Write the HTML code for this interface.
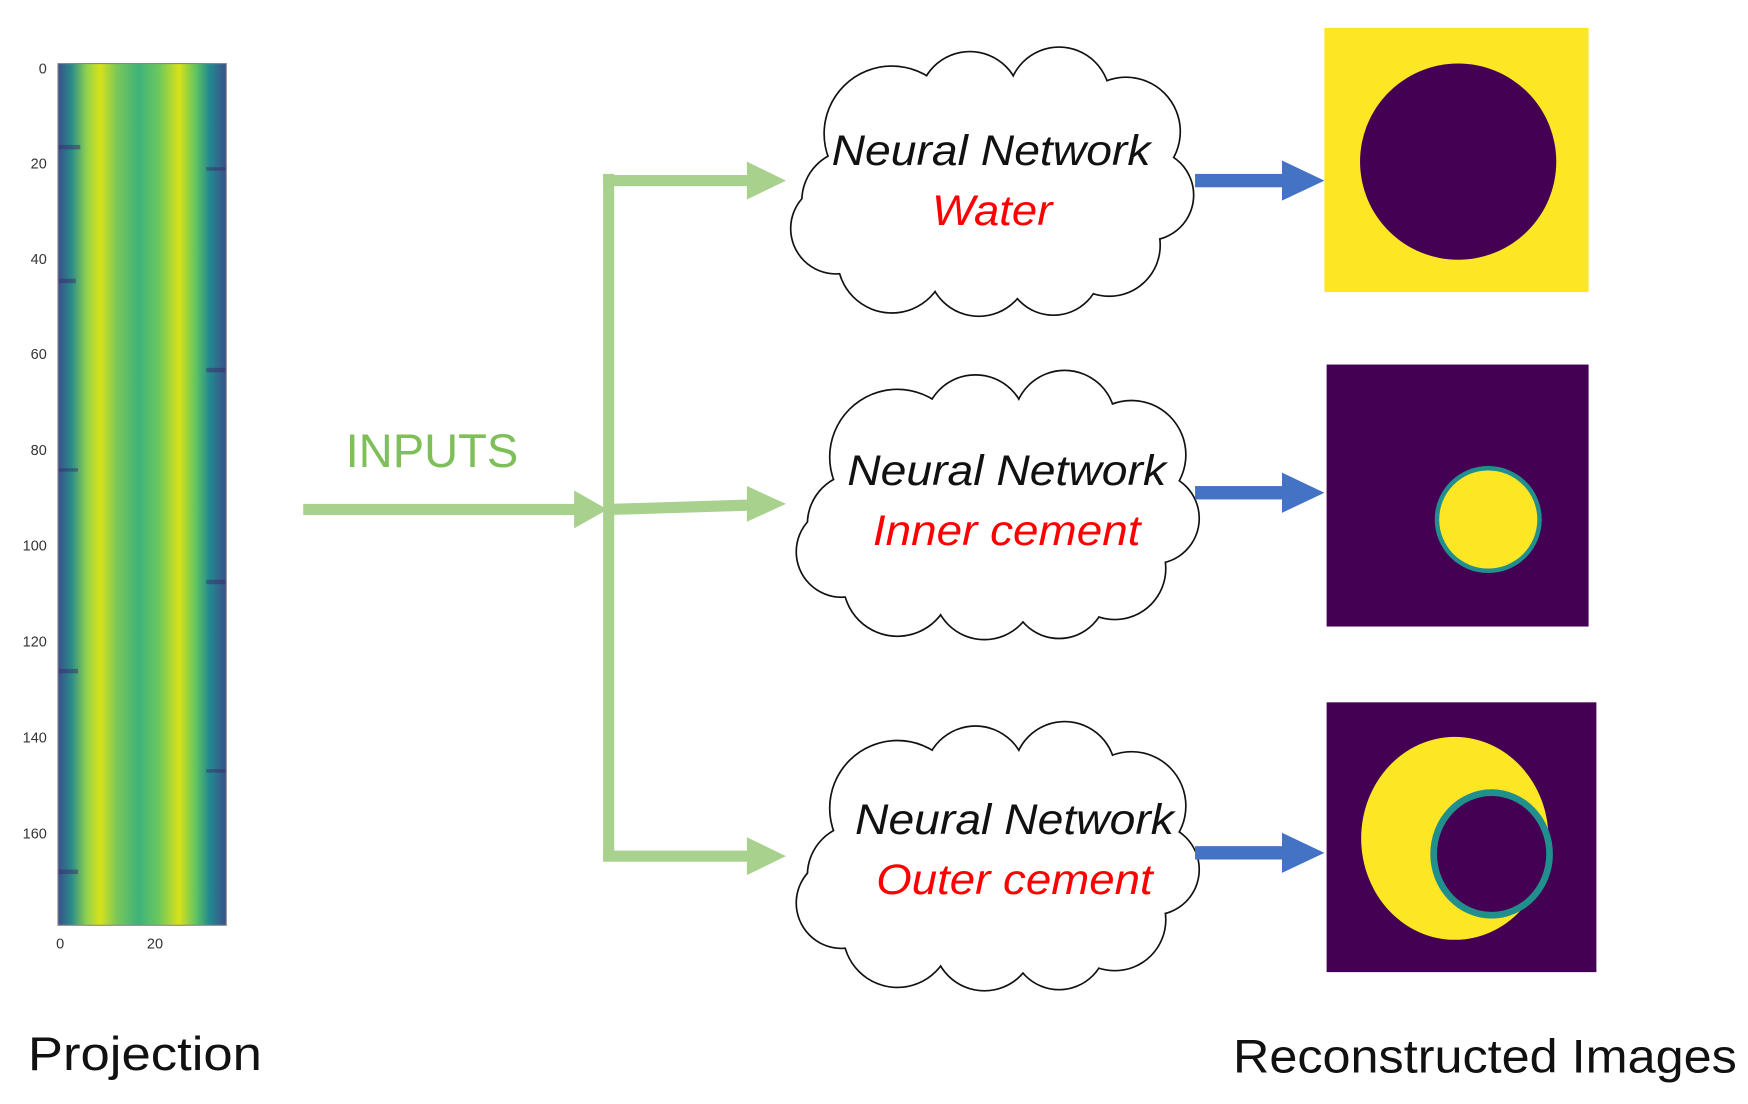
<!DOCTYPE html>
<html><head><meta charset="utf-8"><style>
html,body{margin:0;padding:0;background:#fff;}
svg{display:block}
</style></head><body>
<svg width="1748" height="1104" viewBox="0 0 1568 990.3" preserveAspectRatio="none" xmlns="http://www.w3.org/2000/svg">
<defs>
<linearGradient id="hm" x1="0" x2="1" y1="0" y2="0">
<stop offset="0" stop-color="#3b4f8a"/>
<stop offset="0.08" stop-color="#2a8a8a"/>
<stop offset="0.17" stop-color="#8fd14f"/>
<stop offset="0.25" stop-color="#d8e219"/>
<stop offset="0.35" stop-color="#7ac85a"/>
<stop offset="0.48" stop-color="#3fb27a"/>
<stop offset="0.6" stop-color="#6cc85e"/>
<stop offset="0.72" stop-color="#d8e219"/>
<stop offset="0.82" stop-color="#5ec462"/>
<stop offset="0.9" stop-color="#23898e"/>
<stop offset="1" stop-color="#3b4f8a"/>
</linearGradient>
<g id="cloud">
<g fill="none" stroke="#111" stroke-width="3">
<circle cx="765" cy="180" r="45"/><circle cx="800" cy="120" r="60"/><circle cx="870" cy="92" r="45"/>
<circle cx="950" cy="88" r="45"/><circle cx="1010" cy="118" r="48"/><circle cx="1030" cy="175" r="40"/>
<circle cx="995" cy="220" r="45"/><circle cx="945" cy="240" r="42"/><circle cx="878" cy="238" r="45"/>
<circle cx="800" cy="232" r="48"/><circle cx="750" cy="205" r="40"/>
</g>
<g fill="#fff">
<circle cx="765" cy="180" r="45"/><circle cx="800" cy="120" r="60"/><circle cx="870" cy="92" r="45"/>
<circle cx="950" cy="88" r="45"/><circle cx="1010" cy="118" r="48"/><circle cx="1030" cy="175" r="40"/>
<circle cx="995" cy="220" r="45"/><circle cx="945" cy="240" r="42"/><circle cx="878" cy="238" r="45"/>
<circle cx="800" cy="232" r="48"/><circle cx="750" cy="205" r="40"/>
<ellipse cx="890" cy="165" rx="140" ry="75"/>
</g>
</g>
</defs>

<rect x="52" y="57" width="151" height="773" fill="url(#hm)"/>
<g fill="#3a2a6a" opacity="0.5">
<rect x="52" y="130" width="20" height="4"/><rect x="185" y="150" width="18" height="3"/><rect x="52" y="250" width="16" height="4"/>
<rect x="185" y="330" width="18" height="4"/><rect x="52" y="420" width="18" height="3"/><rect x="185" y="520" width="18" height="4"/>
<rect x="52" y="600" width="18" height="4"/><rect x="185" y="690" width="18" height="3"/><rect x="52" y="780" width="18" height="4"/>
</g>
<rect x="52" y="57" width="151" height="773" fill="none" stroke="#888" stroke-width="1"/>
<g font-family="Liberation Sans, sans-serif" font-size="13" fill="#333" text-anchor="end">
<text x="42" y="66">0</text><text x="42" y="151">20</text><text x="42" y="237">40</text><text x="42" y="322">60</text>
<text x="42" y="408">80</text><text x="42" y="494">100</text><text x="42" y="580">120</text><text x="42" y="666">140</text><text x="42" y="752">160</text>
</g>
<g font-family="Liberation Sans, sans-serif" font-size="13" fill="#333" text-anchor="middle">
<text x="54" y="851">0</text><text x="139" y="851">20</text>
</g>

<text x="310" y="419" font-family="Liberation Sans, sans-serif" font-size="42" fill="#7fbf5a" textLength="155" lengthAdjust="spacingAndGlyphs">INPUTS</text>
<g fill="#a9d18e">
<rect x="272" y="452" width="248" height="10"/><polygon points="515,440 545,457 515,474"/>
<rect x="541" y="156" width="10" height="614"/>
<rect x="541" y="157" width="134" height="10"/><polygon points="670,145 705,162 670,179"/>
<polygon points="546,452 675,448 675,458 546,462"/><polygon points="670,436 705,452 670,468"/>
<rect x="541" y="763" width="134" height="10"/><polygon points="670,751 705,768 670,785"/>
</g>

<use href="#cloud"/>
<use href="#cloud" transform="translate(5,290)"/>
<use href="#cloud" transform="translate(5,605)"/>
<g font-family="Liberation Sans, sans-serif" font-style="italic" font-size="38">
<text x="746" y="148" fill="#111" textLength="286" lengthAdjust="spacingAndGlyphs">Neural Network</text><text x="836" y="202" fill="#f00" textLength="108" lengthAdjust="spacingAndGlyphs">Water</text>
<text x="760" y="435" fill="#111" textLength="286" lengthAdjust="spacingAndGlyphs">Neural Network</text><text x="783" y="489" fill="#f00" textLength="240" lengthAdjust="spacingAndGlyphs">Inner cement</text>
<text x="767" y="748" fill="#111" textLength="286" lengthAdjust="spacingAndGlyphs">Neural Network</text><text x="786" y="802" fill="#f00" textLength="248" lengthAdjust="spacingAndGlyphs">Outer cement</text>
</g>

<g fill="#4472c4">
<rect x="1072" y="156" width="82" height="12"/><polygon points="1150,144 1188,162 1150,180"/>
<rect x="1072" y="436" width="82" height="12"/><polygon points="1150,424 1188,442 1150,460"/>
<rect x="1072" y="759" width="82" height="12"/><polygon points="1150,747 1188,765 1150,783"/>
</g>

<rect x="1188" y="25" width="237" height="237" fill="#fde725"/>
<circle cx="1308" cy="145" r="88" fill="#440154"/>
<rect x="1190" y="327" width="235" height="235" fill="#440154"/>
<circle cx="1335" cy="466" r="48" fill="#21908d"/>
<circle cx="1335" cy="466" r="44" fill="#fde725"/>
<rect x="1190" y="630" width="242" height="242" fill="#440154"/>
<ellipse cx="1305" cy="752" rx="84" ry="91" fill="#fde725"/>
<ellipse cx="1338" cy="766" rx="55" ry="58" fill="#21908d"/>
<ellipse cx="1338" cy="766" rx="49" ry="52" fill="#440154"/>

<g font-family="Liberation Sans, sans-serif" font-size="42" fill="#111">
<text x="25" y="960" textLength="210" lengthAdjust="spacingAndGlyphs">Projection</text>
<text x="1106" y="962" textLength="452" lengthAdjust="spacingAndGlyphs">Reconstructed Images</text>
</g>
</svg>
</body></html>
